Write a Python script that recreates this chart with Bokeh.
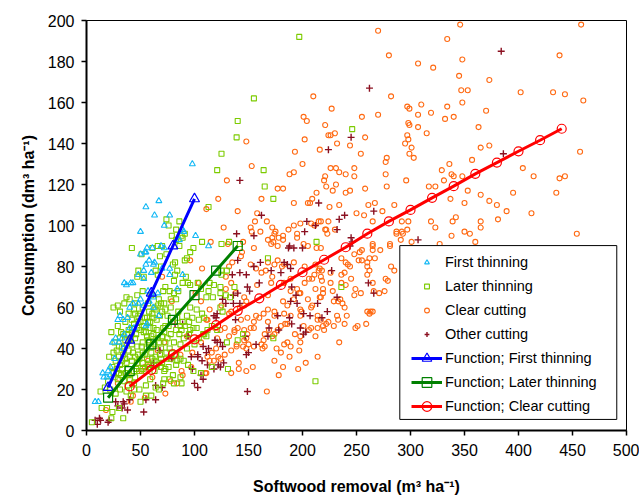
from bokeh.plotting import figure
from bokeh.models import Legend, LegendItem, FixedTicker, Range1d, BoxAnnotation
from bokeh.embed import file_html
from bokeh.resources import INLINE

# ---------------- data ----------------
x_ticks = list(range(0, 501, 50))
y_ticks = list(range(0, 201, 20))

first_thinning = [
    (98,130),(67,112),(55,109),(63,105),(77,105),(50,97),(101,95),(86,93),(56,89),(72,89),(113,90),
    (89,98),(72,100),(90,97),(55,87),(61,89),(69,90),(50,86),(54,87),(58,83),(63,82),(60,77),(48,76),
    (53,74),(35,72),(41,72),(70,79),(77,79),(77,76),(89,76),(84,69),(57,68),(43,72),(37,71),(53,78),
    (62,81),(55,81),(50,64),(48,62),(53,61),(58,63),(62,60),(29,54),(34,54),(56,52),(67,56),(24,43),
    (27,45),(15,28),(16,26),(8,14),(11,14),(44,50),(20,29),(22,31),(19,26),(34,40),(33,45),(35,47),
    (40,50),(55,51),(66,67),(62,65),(43,62),(40,60),(31,56),(26,35),(22,27),(30,43),(38,55)]

later_thinning = [
    (197,192),(155,162),(140,151),(139,143),(125,135),(164,127),(121,127),(165,119),(173,113),(113,109),
    (74,103),(86,102),(107,92),(125,91),(132,92),(42,89),(61,89),(66,90),(76,100),(79,95),(83,98),
    (89,94),(99,89),(142,91),(246,147),(212,24),(236,70),
    (145,47),(140,44),(130,43),(116,31),(131,30),(173,45),(109,47),(168,84),(213,92),(114,72),(118,71),
    (125,78),(125,76),(130,78),(113,68),(124,70),(137,70),(124,67),(129,66),(117,65),(111,65),(133,65),
    (124,60),(126,58),(107,57),(109,55),(112,49),(116,51),(121,49),
    (51,86),(70,90),(68,85),(74,86),(83,93),(86,90),(88,95),(91,96),(96,87),(91,83),(93,84),(80,81),
    (82,82),(84,78),(82,76),(81,73),(89,72),(94,72),(92,75),(96,71),(103,72),(106,69),(73,70),(71,68),
    (77,68),(81,67),(85,68),(78,64),(83,64),(67,64),(69,62),(73,59),(78,60),(85,58),(93,56),(96,60),
    (102,59),(98,55),(47,75),(48,78),(53,75),(66,76),(64,78),(69,80),(37,65),(29,61),(25,60),(31,58),
    (39,57),(44,59),(48,56),(54,55),(50,53),(57,53),(65,54),(62,50),(71,50),(76,51),(89,53),(95,53),
    (104,54),(96,49),(102,50),(108,47),(36,53),(42,50),(32,48),(29,51),(23,48),(46,47),(53,48),(56,46),
    (59,50),
    (5,4),(23,6),(14,11),(19,11),(13,19),(17,21),(22,20),(27,18),(31,20),(37,19),(41,17),(44,20),
    (49,20),(55,17),(64,21),(67,20),(81,23),(88,23),(87,26),(77,25),(80,27),(72,25),(72,29),(63,29),
    (69,31),(59,25),(55,22),(45,26),(40,25),(39,27),(36,28),(44,29),(52,30),(57,32),(63,34),(69,35),
    (78,35),(83,37),(87,35),(84,34),(93,40),(100,42),(87,42),(81,43),(73,43),(66,45),(60,46),(55,48),
    (50,49),(45,45),(42,42),(39,39),(36,35),(33,34),(30,36),(27,34),(25,38),(30,41),(39,44),(34,47),
    (42,48),(63,42),(69,40),(74,38),(73,51),(83,49),(87,51),(99,50),(104,45),(111,46),(71,23),(73,30),
    (83,32),(90,34),(94,32),(99,29),(106,28),(48,37),(52,38),(56,40),(60,38),(64,36),(58,43),(52,43),
    (47,41),(35,40),(33,30),(24,31),(20,24),(26,26),(30,28),(47,33),(56,35),(77,40),(90,45),(95,47),
    (62,55),(58,58),(52,60),(57,62),(63,60),(68,56),(45,62),(40,64),(47,66),(52,68),(60,66),(35,62),
    (24,9),(30,11),(34,6),(44,23),(50,14),(60,17),
    (28,30),(31,32),(34,37),(37,33),(40,36),(43,38),(46,30),(49,35),(51,41),(54,37),(57,44),(60,41),
    (62,47),(65,49),(67,43),(70,46),(72,48),(75,45),(78,47),(80,53),(84,55),(86,47),(88,49),(91,51),
    (38,47),(41,45),(44,52),(47,50),(50,57),(53,51),(56,55),(59,53),(61,57),(64,59),(66,61),(70,58),
    (72,62),(75,56),(33,41),(36,44),(39,49),(42,54),(45,57),(48,53),(28,39),(31,45),(26,43),(21,36),
    (25,28),(29,25),(32,27),(35,24),(38,22),(42,34),(45,36),(49,29),(52,33),(55,29),(58,31),(61,35),
    (65,32),(68,37),(70,33),(74,35),(76,31),(79,38)]

clear_cutting = [
    (270,195),(346,198),(334,191),(458,198),(280,183),(348,181),(438,183),(307,179),(321,177),(345,173),
    (373,171),(282,163),(347,166),(353,166),(402,165),(432,165),(443,164),(460,161),(348,160),(227,157),
    (297,158),(299,157),(310,159),(334,158),(255,153),(270,154),(307,154),(319,155),(332,152),(340,153),
    (370,156),(221,149),(298,150),(299,149),(307,148),(363,148),(224,144),(226,144),(230,145),(315,145),
    (258,143),(297,144),(298,142),(295,140),(244,139),(232,140),(301,138),(365,138),(373,139),(457,136),
    (299,135),(303,133),(254,135),(278,133),(277,131),(357,132),(336,130),(226,128),(248,128),(231,128),
    (404,128),(329,127),(234,126),(240,125),(221,124),(248,124),(277,125),(338,125),(340,124),(348,124),
    (414,124),(443,124),(438,123),(220,122),(296,122),(331,122),(231,120),(278,119),(317,119),(323,119),
    (258,118),(222,119),(228,117),(240,116),(244,117),(353,117),(365,115),(395,116),(435,116),(225,109),
    (234,110),(261,110),(267,111),(285,110),(337,113),(350,111),(373,112),(380,110),(250,106),(257,105),
    (274,107),(389,107),(412,106),(342,104),(217,102),(224,102),(265,102),(292,102),(298,102),(319,102),
    (339,102),(365,102),(365,99),(381,103),(222,98),(230,98),(297,98),(323,99),(350,97),(355,96),
    (287,96),(293,96),(338,95),(454,96),(291,93),(281,91),(265,91),(360,92),(327,91),(301,92),
    (210,163),(201,153),(204,151),(202,142),(148,141),(216,137),(193,136),(153,129),(200,130),(192,126),
    (188,125),(130,122),(177,118),(182,118),(122,113),(162,113),(192,111),(205,111),(209,113),(213,116),
    (207,111),(111,108),(140,107),(158,106),(156,102),(167,102),(127,99),(152,99),(153,97),(161,97),
    (172,99),(174,96),(187,98),(192,100),(198,101),(208,101),(211,100),(215,102),(195,94),(168,93),
    (172,94),(178,94),(182,95),(173,92),(115,92),(131,91),(145,92),(155,89),(201,91),(221,98),
    (175,97),(182,93),(195,96),(171,91),(177,90),(205,90),(213,89),(223,96),(144,87),(135,82),(132,80),
    (152,81),(157,79),(168,82),(177,83),(181,80),(192,82),(202,80),(212,81),(215,78),(218,73),(171,72),
    (172,75),(158,71),(162,77),(183,72),(189,74),(195,69),(209,74),(212,69),(216,65),(219,67),(198,67),
    (205,64),(192,64),(199,58),(208,60),(198,56),(214,56),(217,54),(222,52),(186,61),(183,57),(174,58),
    (164,57),(160,55),(168,53),(155,53),(149,55),(143,54),(140,50),(146,49),(137,48),(152,50),(169,49),
    (180,51),(186,52),(201,51),(206,49),(214,50),(168,66),(146,65),(146,61),(134,58),(128,50),(124,49),
    (112,54),
    (70,75),(96,83),(107,79),(106,63),(111,54),(119,50),(122,36),(114,34),(110,28),(97,31),(88,29),
    (89,27),(84,23),(78,24),(61,26),(54,16),(43,17),(41,14),(18,10),(73,18),(134,39),(139,42),(145,41),
    (148,40),(155,41),(163,40),(167,19),(178,27),(182,31),(188,36),(196,30),(203,33),(214,36),(176,40),
    (164,44),(172,46),(177,49),(184,52),(189,56),(198,59),(209,61),(217,65),(149,47),(155,50),(157,56),
    (168,59),(174,56),(182,63),(189,68),(197,67),(202,72),(206,74),(211,76),(216,79),(183,81),(174,81),
    (166,78),(143,85),(138,67),(134,72),(129,69),(129,75),(125,61),(132,57),(142,60),(148,63),(104,72),
    (101,67),(114,59),(79,63),(93,46),(106,43),(121,45),(87,37),(78,35),(98,38),(66,39),(72,43),(57,34),
    (54,31),(51,29),(69,31),(38,27),(29,23),(189,41),(198,46),(208,50),(214,54),(212,46),(174,34),
    (154,31),(141,30),
    (111,28),(134,28),(148,29),(141,33),(139,41),(128,37),(124,35),(118,34),(112,36),(116,38),(120,40),
    (132,46),(137,49),(146,44),(150,42),(148,45),(162,42),(165,41),(165,47),(174,47),(180,38),(183,42),
    (186,43),(193,47),(197,39),(198,43),
    (217,89),(265,90),(281,90),(287,97),(292,97),(248,86),(253,87),(255,88),(265,88),(272,88),(262,84),
    (267,84),(252,83),(236,84),(240,82),(242,81),(244,80),(255,83),(260,82),(260,80),(262,78),(260,76),
    (282,80),(285,78),(236,76),(239,77),(226,77),(217,75),(226,72),(218,78),(245,74),(236,72),(240,71),
    (277,74),(279,73),(265,72),(266,68),(271,67),(276,68),(249,69),(254,67),(248,66),(219,69),(228,68),
    (229,63),(233,63),(235,64),(237,62),(239,60),(260,58),(263,58),(265,58),(262,57),(241,56),(232,56),
    (233,54),(224,53),(229,51),(219,51),(220,49),(239,52),(249,50),(251,51),(259,52),(234,43)]

other_cutting = [
    (142,122),(139,96),(155,95),(162,105),(204,102),(202,97),(215,111),(212,100),(187,89),(192,89),
    (262,167),(384,185),(245,143),(224,137),(386,135),(266,107),(239,105),(234,103),(232,98),(307,93),
    (245,94),(119,44),(121,43),(124,43),(111,38),(107,34),(122,32),(124,31),(157,42),(148,37),(149,19),
    (168,46),(201,47),(246,92),(244,90),(227,78),(261,72),(266,67),(232,65),(223,58),(218,55),(140,83),
    (161,82),(142,77),(148,76),(149,70),(151,68),(135,76),(126,64),(136,66),(136,62),(129,62),(121,57),
    (118,56),(120,55),(188,90),(200,89),(186,81),(189,79),(180,77),(171,78),(189,63),(195,62),(214,62),
    (190,52),(169,50),(178,49),(203,48),(201,57),(207,56),(8,5),(12,6),(21,5),(38,10),(33,11),(27,14),
    (34,14),(53,9),(64,15),(70,21),(60,31),(62,33),(68,39),(79,35),(98,30),(97,36),(106,27),(108,25),
    (113,40),(108,41),(103,37),(89,52),(82,52),(94,46),(10,3),(13,5),(20,4),(29,12),(35,13),(40,15),
    (55,15),(64,22),(100,23),(103,21),(103,36),(112,32),(118,30),(126,41),(127,33),(150,38),(147,46),
    (138,54),(142,62),(140,67),(160,72),(155,80),(183,82),(190,70),(194,66),(198,50),(177,56),(188,55)]

# fitted functions
f_first_x = [20, 40, 60, 80, 100]
f_first_y = [21, 44, 67, 90, 113]
f_later_x = [20, 40, 60, 80, 100, 120, 140]
f_later_y = [16, 29, 42, 54, 66, 78, 90]
f_clear_x = [40, 60, 80, 100, 120, 140, 160, 180, 200, 220, 240, 260, 280, 300, 320, 340, 360, 380, 400, 420, 440]
f_clear_y = [21.5, 29.6, 37.2, 44.5, 51.4, 58.4, 64.5, 71, 77.2, 83.3, 89.4, 96, 102, 107.6, 113.5, 119.2,
             125.2, 130.7, 136.2, 141.6, 147.2]

labels = ["First thinning", "Later thinning", "Clear cutting", "Other cutting",
          "Function; First thinning", "Function; Later thinning", "Function; Clear cutting"]

FONT = "Liberation Sans"

def xs(pts):
    return [a for a, b in pts]

def ys(pts):
    return [b for a, b in pts]

p = figure(frame_width=540, frame_height=410,
           x_range=Range1d(0, 500), y_range=Range1d(0, 200),
           output_backend="svg", toolbar_location=None,
           min_border_left=86, min_border_right=13, min_border_top=20, min_border_bottom=67)
p.background_fill_color = "white"
p.border_fill_color = "white"
p.outline_line_color = "black"
p.outline_line_width = 1
p.xgrid.visible = False
p.ygrid.visible = False

p.xaxis.ticker = FixedTicker(ticks=x_ticks)
p.yaxis.ticker = FixedTicker(ticks=y_ticks)
for ax in (p.xaxis, p.yaxis):
    ax.axis_line_width = 2
    ax.axis_line_color = "black"
    ax.major_tick_out = 5
    ax.major_tick_in = 0
    ax.major_tick_line_width = 1.5
    ax.minor_tick_out = 0
    ax.minor_tick_in = 0
    ax.major_label_text_font = FONT
    ax.major_label_text_font_size = "16px"
    ax.major_label_text_color = "black"
    ax.axis_label_text_font = FONT
    ax.axis_label_text_font_size = "16px"
    ax.axis_label_text_font_style = "bold"
    ax.axis_label_text_color = "black"
p.xaxis.major_label_standoff = 8
p.yaxis.major_label_standoff = 7
p.xaxis.axis_label = "Softwood removal (m³ ha⁻¹)"
p.yaxis.axis_label = "Consumption (dm³ ha⁻¹)"
p.xaxis.axis_label_standoff = 19
p.yaxis.axis_label_standoff = 8

r_cc = p.scatter(xs(clear_cutting), ys(clear_cutting), marker="circle", size=5,
                 fill_color=None, line_color="#FF6A13", line_width=1.1)
r_oc = p.scatter(xs(other_cutting), ys(other_cutting), marker="cross", size=7,
                 line_color="#8B1020", line_width=1.4)
r_lt = p.scatter(xs(later_thinning), ys(later_thinning), marker="square", size=5,
                 fill_color=None, line_color="#7CCB00", line_width=1.1)
r_ft = p.scatter(xs(first_thinning), ys(first_thinning), marker="triangle", size=6,
                 fill_color=None, line_color="#12B8F5", line_width=1.1)

l_ft = p.line(f_first_x, f_first_y, line_color="#0000FF", line_width=3)
m_ft = p.scatter(f_first_x, f_first_y, marker="triangle", size=10, fill_color=None,
                 line_color="#0000FF", line_width=1.2)
l_lt = p.line(f_later_x, f_later_y, line_color="#008000", line_width=3)
m_lt = p.scatter(f_later_x, f_later_y, marker="square", size=9, fill_color=None,
                 line_color="#008000", line_width=1.2)
l_cc = p.line(f_clear_x, f_clear_y, line_color="#FF0000", line_width=3)
m_cc = p.scatter(f_clear_x, f_clear_y, marker="circle", size=9, fill_color=None,
                 line_color="#FF0000", line_width=1.2)

# legend frame (white box behind the two legend blocks)
box = BoxAnnotation(left=290.1, right=491.0, bottom=5.4, top=90.2,
                    fill_color="white", fill_alpha=1.0, line_color="black", line_width=1,
                    line_alpha=1.0)
p.add_layout(box)

def style_legend(lg, gh):
    lg.glyph_width = 31
    lg.glyph_height = gh
    lg.label_height = 24
    lg.label_standoff = 3
    lg.spacing = 0
    lg.padding = 0
    lg.margin = 0
    lg.label_text_font = FONT
    lg.label_text_font_size = "14.5px"
    lg.label_text_color = "black"
    lg.background_fill_alpha = 0
    lg.border_line_alpha = 0

leg_pts = Legend(items=[LegendItem(label=labels[0], renderers=[r_ft]),
                        LegendItem(label=labels[1], renderers=[r_lt]),
                        LegendItem(label=labels[2], renderers=[r_cc]),
                        LegendItem(label=labels[3], renderers=[r_oc])],
                 location=(325, 84))
style_legend(leg_pts, 12)
leg_fun = Legend(items=[LegendItem(label=labels[4], renderers=[l_ft, m_ft]),
                        LegendItem(label=labels[5], renderers=[l_lt, m_lt]),
                        LegendItem(label=labels[6], renderers=[l_cc, m_cc])],
                 location=(325, 12))
style_legend(leg_fun, 24)
p.add_layout(leg_pts)
p.add_layout(leg_fun)

open("out.html", "w").write(file_html(p, INLINE))
